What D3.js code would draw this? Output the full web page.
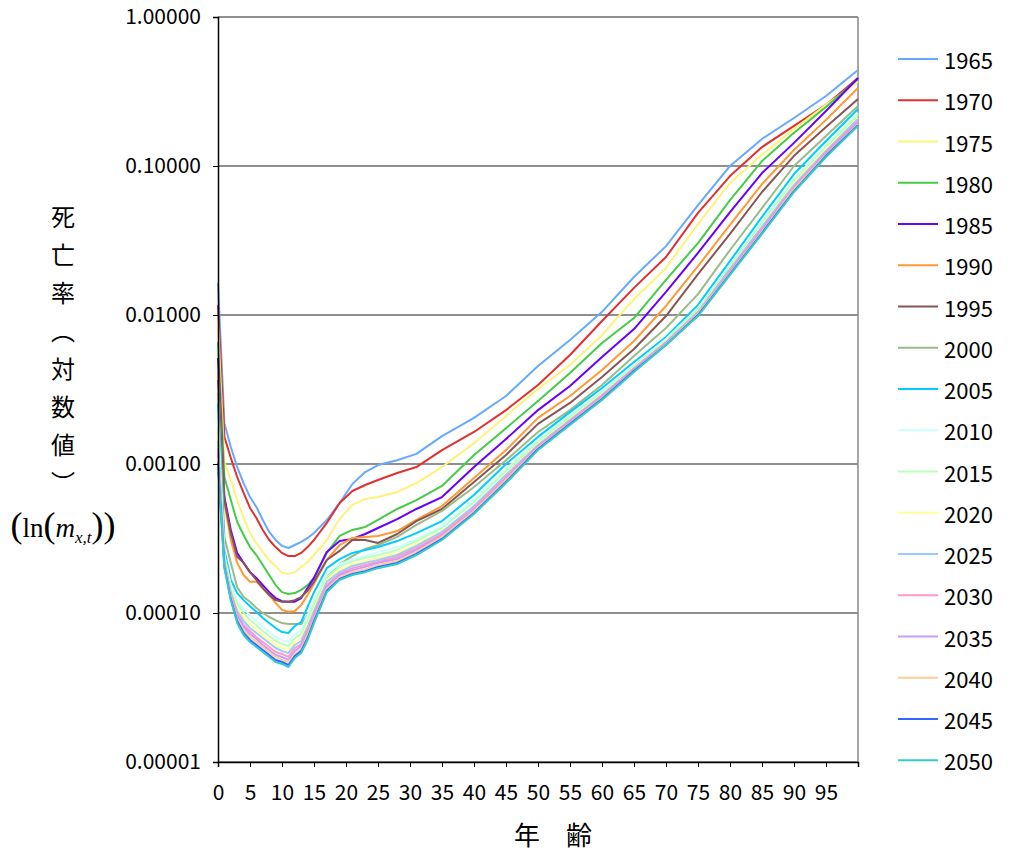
<!DOCTYPE html>
<meta charset="utf-8">
<script src="https://d3js.org/d3.v7.min.js"></script>
<style>
  body { margin: 0; background: #fff; }
</style>
<body>
<div id="my_dataviz"></div>

<script>

// ages (x axis)
var ages = [0,1,2,3,4,5,6,7,8,9,10,11,12,13,14,15,17,19,21,23,25,28,31,35,40,45,50,55,60,65,70,75,80,85,90,95,100];

// legend years
var years = ["1965","1970","1975","1980","1985","1990","1995","2000","2005",
             "2010","2015","2020","2025","2030","2035","2040","2045","2050"];

// y axis ticks
var yTicks = [0.00001, 0.0001, 0.001, 0.01, 0.1, 1];
var xTicks = [0,5,10,15,20,25,30,35,40,45,50,55,60,65,70,75,80,85,90,95];

// death rates m(x,t), one array per year
var rate1965 = [1.64e-2,1.88e-3,1.30e-3,9.54e-4,7.45e-4,6.00e-4,5.14e-4,4.21e-4,3.50e-4,3.09e-4,2.82e-4,2.73e-4,2.86e-4,3.00e-4,3.19e-4,3.44e-4,4.21e-4,5.47e-4,7.34e-4,8.83e-4,9.84e-4,1.06e-3,1.17e-3,1.54e-3,2.04e-3,2.86e-3,4.55e-3,6.79e-3,1.05e-2,1.80e-2,2.90e-2,5.47e-2,1.00e-1,1.52e-1,2.10e-1,2.95e-1,4.41e-1];
var rate1970 = [1.17e-2,1.52e-3,1.10e-3,8.18e-4,6.39e-4,5.07e-4,4.34e-4,3.61e-4,3.09e-4,2.77e-4,2.53e-4,2.41e-4,2.41e-4,2.53e-4,2.77e-4,3.09e-4,4.02e-4,5.47e-4,6.59e-4,7.23e-4,7.81e-4,8.70e-4,9.54e-4,1.24e-3,1.64e-3,2.30e-3,3.39e-3,5.39e-3,9.11e-3,1.52e-2,2.45e-2,4.84e-2,8.56e-2,1.34e-1,1.86e-1,2.57e-1,3.90e-1];
var rate1975 = [8.83e-3,1.02e-3,7.81e-4,5.73e-4,4.34e-4,3.44e-4,2.95e-4,2.57e-4,2.27e-4,2.07e-4,1.86e-4,1.83e-4,1.88e-4,2.04e-4,2.20e-4,2.45e-4,3.09e-4,4.27e-4,5.31e-4,5.82e-4,6.00e-4,6.49e-4,7.45e-4,9.54e-4,1.38e-3,2.10e-3,3.19e-3,4.62e-3,7.34e-3,1.28e-2,2.07e-2,4.08e-2,7.69e-2,1.19e-1,1.77e-1,2.57e-1,3.66e-1];
var rate1980 = [6.59e-3,8.18e-4,5.73e-4,4.08e-4,3.34e-4,2.77e-4,2.45e-4,2.10e-4,1.80e-4,1.54e-4,1.38e-4,1.34e-4,1.36e-4,1.43e-4,1.54e-4,1.72e-4,2.53e-4,3.29e-4,3.61e-4,3.78e-4,4.21e-4,4.99e-4,5.73e-4,7.12e-4,1.15e-3,1.74e-3,2.65e-3,4.08e-3,6.49e-3,9.54e-3,1.72e-2,3.04e-2,5.91e-2,1.08e-1,1.67e-1,2.49e-1,3.84e-1];
var rate1985 = [5.14e-3,6.00e-4,3.61e-4,2.53e-4,2.17e-4,1.88e-4,1.72e-4,1.54e-4,1.38e-4,1.26e-4,1.20e-4,1.19e-4,1.19e-4,1.26e-4,1.47e-4,1.72e-4,2.57e-4,3.04e-4,3.14e-4,3.39e-4,3.72e-4,4.27e-4,4.99e-4,6.00e-4,9.54e-4,1.47e-3,2.30e-3,3.34e-3,5.22e-3,8.05e-3,1.43e-2,2.61e-2,4.91e-2,8.97e-2,1.43e-1,2.34e-1,3.90e-1];
var rate1990 = [4.14e-3,5.47e-4,3.09e-4,2.17e-4,1.80e-4,1.62e-4,1.62e-4,1.47e-4,1.32e-4,1.17e-4,1.05e-4,1.02e-4,1.03e-4,1.13e-4,1.32e-4,1.57e-4,2.27e-4,2.86e-4,3.19e-4,3.24e-4,3.29e-4,3.55e-4,4.21e-4,5.22e-4,8.05e-4,1.24e-3,2.04e-3,2.86e-3,4.27e-3,6.69e-3,1.15e-2,2.13e-2,4.02e-2,7.57e-2,1.28e-1,2.04e-1,3.34e-1];
var rate1995 = [3.66e-3,5.73e-4,3.44e-4,2.38e-4,2.17e-4,1.88e-4,1.67e-4,1.47e-4,1.32e-4,1.22e-4,1.19e-4,1.19e-4,1.22e-4,1.28e-4,1.41e-4,1.62e-4,2.27e-4,2.61e-4,3.09e-4,3.09e-4,2.95e-4,3.39e-4,4.14e-4,4.99e-4,7.57e-4,1.15e-3,1.86e-3,2.57e-3,3.84e-3,5.91e-3,9.84e-3,1.88e-2,3.50e-2,6.69e-2,1.17e-1,1.83e-1,2.82e-1];
var rate2000 = [3.00e-3,3.24e-4,2.17e-4,1.49e-4,1.28e-4,1.19e-4,1.08e-4,1.00e-4,9.40e-5,8.97e-5,8.56e-5,8.43e-5,8.43e-5,8.43e-5,9.69e-5,1.13e-4,1.74e-4,2.13e-4,2.41e-4,2.69e-4,2.86e-4,3.24e-4,3.90e-4,4.84e-4,7.01e-4,1.06e-3,1.64e-3,2.30e-3,3.39e-3,5.31e-3,8.18e-3,1.38e-2,2.73e-2,5.22e-2,1.00e-1,1.59e-1,2.53e-1];
var rate2005 = [2.57e-3,2.65e-4,1.67e-4,1.36e-4,1.22e-4,1.11e-4,1.02e-4,9.25e-5,8.56e-5,7.93e-5,7.45e-5,7.34e-5,8.18e-5,8.70e-5,1.10e-4,1.38e-4,2.00e-4,2.30e-4,2.53e-4,2.65e-4,2.77e-4,3.04e-4,3.44e-4,4.14e-4,6.19e-4,1.00e-3,1.52e-3,2.23e-3,3.24e-3,4.84e-3,7.12e-3,1.17e-2,2.30e-2,4.55e-2,8.83e-2,1.47e-1,2.41e-1];
var rate2010 = [2.00e-3,2.45e-4,1.54e-4,1.20e-4,1.06e-4,9.69e-5,8.83e-5,8.05e-5,7.45e-5,6.90e-5,6.59e-5,6.39e-5,7.23e-5,7.69e-5,9.69e-5,1.22e-4,1.83e-4,2.13e-4,2.30e-4,2.41e-4,2.57e-4,2.77e-4,3.14e-4,3.84e-4,5.73e-4,9.25e-4,1.45e-3,2.13e-3,3.09e-3,4.62e-3,6.90e-3,1.11e-2,2.17e-2,4.27e-2,8.18e-2,1.38e-1,2.27e-1];
var rate2015 = [1.77e-3,2.38e-4,1.47e-4,1.15e-4,1.00e-4,8.97e-5,8.30e-5,7.57e-5,7.01e-5,6.49e-5,6.19e-5,6.00e-5,6.79e-5,7.23e-5,8.97e-5,1.15e-4,1.74e-4,2.04e-4,2.23e-4,2.34e-4,2.45e-4,2.65e-4,3.04e-4,3.72e-4,5.56e-4,8.97e-4,1.41e-3,2.07e-3,3.00e-3,4.55e-3,6.79e-3,1.10e-2,2.13e-2,4.14e-2,7.93e-2,1.34e-1,2.20e-1];
var rate2020 = [1.57e-3,2.30e-4,1.43e-4,1.08e-4,9.25e-5,8.43e-5,7.69e-5,7.12e-5,6.59e-5,6.10e-5,5.82e-5,5.64e-5,6.39e-5,6.79e-5,8.43e-5,1.08e-4,1.67e-4,1.94e-4,2.13e-4,2.23e-4,2.34e-4,2.53e-4,2.90e-4,3.55e-4,5.07e-4,8.56e-4,1.36e-3,2.00e-3,2.95e-3,4.48e-3,6.69e-3,1.06e-2,2.07e-2,3.96e-2,7.69e-2,1.30e-1,2.10e-1];
var rate2025 = [1.43e-3,2.23e-4,1.38e-4,1.03e-4,8.83e-5,7.93e-5,7.34e-5,6.79e-5,6.29e-5,5.82e-5,5.56e-5,5.39e-5,6.10e-5,6.49e-5,8.05e-5,1.03e-4,1.62e-4,1.88e-4,2.07e-4,2.17e-4,2.27e-4,2.45e-4,2.82e-4,3.50e-4,5.22e-4,8.43e-4,1.34e-3,1.97e-3,2.90e-3,4.41e-3,6.59e-3,1.05e-2,2.04e-2,3.90e-2,7.45e-2,1.26e-1,2.07e-1];
var rate2030 = [1.28e-3,2.17e-4,1.34e-4,9.84e-5,8.30e-5,7.57e-5,6.90e-5,6.39e-5,5.91e-5,5.47e-5,5.31e-5,5.07e-5,5.82e-5,6.19e-5,7.69e-5,9.84e-5,1.54e-4,1.83e-4,2.00e-4,2.10e-4,2.20e-4,2.38e-4,2.73e-4,3.39e-4,5.07e-4,8.18e-4,1.32e-3,1.94e-3,2.86e-3,4.34e-3,6.49e-3,1.03e-2,1.97e-2,3.78e-2,7.23e-2,1.24e-1,2.00e-1];
var rate2035 = [1.19e-3,2.13e-4,1.30e-4,9.54e-5,8.05e-5,7.23e-5,6.69e-5,6.10e-5,5.64e-5,5.22e-5,5.07e-5,4.84e-5,5.56e-5,6.00e-5,7.34e-5,9.54e-5,1.49e-4,1.80e-4,1.94e-4,2.04e-4,2.17e-4,2.30e-4,2.65e-4,3.29e-4,4.91e-4,7.93e-4,1.30e-3,1.91e-3,2.82e-3,4.27e-3,6.49e-3,1.02e-2,1.94e-2,3.72e-2,7.12e-2,1.22e-1,1.97e-1];
var rate2040 = [1.10e-3,2.10e-4,1.28e-4,9.11e-5,7.69e-5,6.90e-5,6.39e-5,5.91e-5,5.47e-5,5.07e-5,4.84e-5,4.69e-5,5.31e-5,5.73e-5,7.12e-5,9.11e-5,1.45e-4,1.74e-4,1.88e-4,1.97e-4,2.10e-4,2.23e-4,2.57e-4,3.24e-4,4.84e-4,7.81e-4,1.28e-3,1.88e-3,2.77e-3,4.21e-3,6.39e-3,1.02e-2,1.91e-2,3.61e-2,7.01e-2,1.19e-1,1.91e-1];
var rate2045 = [1.02e-3,2.04e-4,1.24e-4,8.83e-5,7.34e-5,6.59e-5,6.10e-5,5.64e-5,5.22e-5,4.84e-5,4.69e-5,4.48e-5,5.14e-5,5.56e-5,6.79e-5,8.83e-5,1.41e-4,1.69e-4,1.83e-4,1.91e-4,2.04e-4,2.17e-4,2.49e-4,3.14e-4,4.69e-4,7.57e-4,1.26e-3,1.86e-3,2.73e-3,4.21e-3,6.29e-3,1.00e-2,1.88e-2,3.55e-2,6.79e-2,1.17e-1,1.88e-1];
var rate2050 = [9.54e-4,2.00e-4,1.22e-4,8.56e-5,7.12e-5,6.39e-5,5.91e-5,5.47e-5,5.07e-5,4.69e-5,4.55e-5,4.34e-5,4.99e-5,5.39e-5,6.59e-5,8.56e-5,1.38e-4,1.67e-4,1.80e-4,1.88e-4,2.00e-4,2.13e-4,2.45e-4,3.09e-4,4.62e-4,7.45e-4,1.24e-3,1.83e-3,2.69e-3,4.14e-3,6.29e-3,9.84e-3,1.86e-2,3.50e-2,6.69e-2,1.15e-1,1.86e-1];

var rates = [rate1965, rate1970, rate1975, rate1980, rate1985, rate1990, rate1995, rate2000, rate2005,
             rate2010, rate2015, rate2020, rate2025, rate2030, rate2035, rate2040, rate2045, rate2050];

var colors = ["#66aaff","#e03030","#fff27a","#44cc44","#6600ff","#ff9933","#885555","#99bb88","#00ccff",
              "#ccffff","#bbffbb","#ffff99","#99ccff","#ff99cc","#cc99ff","#ffcc99","#3366ff","#33cccc"];

// set the dimensions and margins of the graph
var margin = {top: 17, right: 152, bottom: 88, left: 218},
    width = 1010 - margin.left - margin.right,
    height = 850 - margin.top - margin.bottom;

var svg = d3.select("#my_dataviz")
  .append("svg")
    .attr("width", 1010)
    .attr("height", 850)
    .style("display", "block")
    .style("background", "#fff");

var g = svg.append("g")
    .attr("transform", "translate(" + margin.left + "," + margin.top + ")");

var x = d3.scaleLinear()
  .domain([0, 100])
  .range([0, width]);

var y = d3.scaleLog()
  .domain([0.00001, 1])
  .range([height, 0]);

var tickFont = "'Noto Sans CJK JP', 'Noto Sans', sans-serif";

// horizontal grid lines
g.append("g")
  .selectAll("line")
  .data(yTicks)
  .enter()
  .append("line")
    .attr("x1", 0)
    .attr("x2", width)
    .attr("y1", function (d) { return y(d); })
    .attr("y2", function (d) { return y(d); })
    .style("stroke", "#6a6a6a")
    .style("stroke-width", 1.3);

// right border
g.append("line")
  .attr("x1", width).attr("x2", width)
  .attr("y1", 0).attr("y2", height)
  .style("stroke", "#888")
  .style("stroke-width", 1.5);

// lines
var line = d3.line()
  .x(function (d) { return x(d[0]); })
  .y(function (d) { return y(d[1]); });

g.append("g")
  .selectAll("path")
  .data(rates)
  .enter()
  .append("path")
    .attr("d", function (r) { return line(ages.map(function (a, i) { return [a, r[i]]; })); })
    .style("fill", "none")
    .style("stroke", function (r, i) { return colors[i]; })
    .style("stroke-width", 2)
    .style("stroke-linejoin", "round");

// X axis
var xAxis = g.append("g")
  .attr("transform", "translate(0," + height + ")")
  .call(d3.axisBottom(x).tickValues(xTicks).tickSize(5).tickPadding(18).tickFormat(d3.format("d")));
xAxis.select(".domain").style("stroke", "#000").style("stroke-width", 1.5);
xAxis.selectAll("text")
  .style("font-family", tickFont)
  .style("font-size", "21px")
  .style("fill", "#000");

// Y axis
var yAxis = g.append("g")
  .call(d3.axisLeft(y).tickValues(yTicks).tickSize(5).tickPadding(12).tickFormat(d3.format(".5f")));
yAxis.select(".domain").style("stroke", "#000").style("stroke-width", 1.5);
yAxis.selectAll("text")
  .style("font-family", tickFont)
  .style("font-size", "21px")
  .style("fill", "#000");

// X axis title
svg.append("text")
  .attr("x", 553)
  .attr("y", 833)
  .attr("text-anchor", "middle")
  .attr("dominant-baseline", "central")
  .style("font-family", tickFont)
  .style("font-size", "26px")
  .text("年　齢");

// Y axis title, stacked vertically
var yTitle = ["死", "亡", "率", "︵", "対", "数", "値", "︶"];
svg.append("g")
  .selectAll("text")
  .data(yTitle)
  .enter()
  .append("text")
    .attr("x", 63)
    .attr("y", function (d, i) { return 215 + i * 38; })
    .attr("text-anchor", "middle")
    .attr("dominant-baseline", "central")
    .style("font-family", tickFont)
    .style("font-size", "24px")
    .text(function (d) { return d; });

var ln = svg.append("text")
  .attr("x", 63)
  .attr("y", 537)
  .attr("text-anchor", "middle")
  .style("font-family", "'Liberation Serif', 'Times New Roman', serif")
  .style("font-size", "27px");
ln.append("tspan").style("font-size", "36px").text("(");
ln.append("tspan").text("ln");
ln.append("tspan").style("font-size", "36px").text("(");
ln.append("tspan").style("font-style", "italic").text("m");
ln.append("tspan").attr("dy", 6).style("font-style", "italic").style("font-size", "17px").text("x,t");
ln.append("tspan").attr("dy", -6).style("font-size", "36px").text("))");

// legend
var legend = svg.append("g")
  .selectAll("g")
  .data(years)
  .enter()
  .append("g")
    .attr("transform", function (d, i) { return "translate(898," + (59 + i * 41.25) + ")"; });

legend.append("line")
  .attr("x1", 0).attr("x2", 40)
  .style("stroke", function (d, i) { return colors[i]; })
  .style("stroke-width", 2);

legend.append("text")
  .attr("x", 46)
  .attr("dominant-baseline", "central")
  .style("font-family", tickFont)
  .style("font-size", "22px")
  .text(function (d) { return d; });

</script>
</body>
